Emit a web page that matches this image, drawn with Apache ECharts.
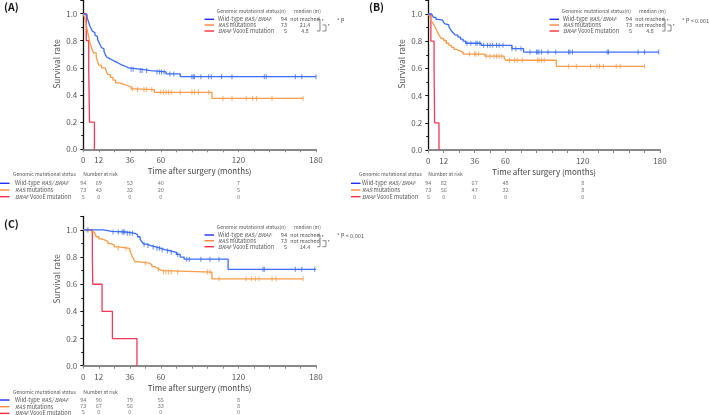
<!DOCTYPE html>
<html>
<head>
<meta charset="utf-8">
<script src="https://cdn.jsdelivr.net/npm/echarts@6/dist/echarts.min.js"></script>
<style>
html, body { margin: 0; padding: 0; background: #fff; }
#chart { width: 709px; height: 415px; }
</style>
</head>
<body>
<div id="chart"></div>
<script>
const FONT = '"Noto Sans CJK JP", "Noto Sans", sans-serif';

// axis ticks
const xTickLabels = [0, 12, 36, 60, 120, 180];
const yTickLabels = [0, 0.2, 0.4, 0.6, 0.8, 1.0];
const riskTimes = [0, 12, 36, 60, 120];

// group info
const groupNs = [94, 73, 5];
const groupColors = ['#3b6cf6', '#f89c48', '#f23a58'];
const swatchColors = ['#1c2cff', '#ff8a3c', '#ff2e3e'];

// (A) survival steps [month, rate]
const aWild = [[0,1],[1.5,0.99],[3,0.97],[4,0.94],[5,0.91],[6,0.89],[7,0.87],[8,0.86],[9,0.84],[10,0.83],[11,0.81],[12,0.79],[13,0.77],[14,0.75],[15,0.74],[16,0.72],[17,0.70],[18,0.68],[19,0.67],[20,0.66],[22,0.65],[24,0.64],[26,0.63],[28,0.62],[30,0.61],[33,0.60],[35,0.59],[44,0.58],[52,0.57],[64,0.555],[75,0.535],[180,0.535]];
const aRas = [[0,1],[1,0.97],[2,0.93],[3,0.88],[4,0.84],[5,0.79],[6,0.76],[7,0.73],[8,0.71],[10,0.68],[11,0.65],[12,0.62],[14,0.60],[17,0.59],[18,0.57],[19,0.55],[21,0.53],[23,0.51],[25,0.49],[28,0.48],[31,0.47],[34,0.46],[37,0.445],[40,0.44],[55,0.42],[99.5,0.375],[170,0.375]];
const aBraf = [[0,1],[2.3,0.8],[4.2,0.6],[4.8,0.2],[8.6,0]];
const aWildCens = [37,38.5,44,45.5,49,57,59,60.5,62.5,67,70,84,85,86,91,97,99,107,115,140,141.5,164,169,180];
const aRasCens = [38,42,47,49,53,60,62,64,66,68,75,84,86,89,97,108,115,126,131,134,146,170];
const aRiskWild = [94, 69, 53, 40, 7];
const aRiskRas = [73, 43, 32, 20, 5];
const aRiskBraf = [5, 0, 0, 0, 0];
const aMedians = ['not reached', '21.4', '4.8'];

// (B)
const bWild = [[0,1],[2.6,0.99],[4,0.975],[6,0.96],[8,0.955],[11,0.945],[12.5,0.93],[14,0.92],[16,0.905],[17,0.89],[18,0.875],[19.5,0.86],[21,0.845],[23,0.83],[25,0.815],[27,0.80],[29,0.785],[41,0.77],[65,0.745],[74,0.72],[179,0.72]];
const bRas = [[0,1],[1,0.985],[2,0.96],[3,0.94],[4,0.925],[5,0.91],[6,0.89],[7,0.87],[8,0.85],[9,0.835],[10,0.82],[12,0.805],[14,0.785],[16,0.77],[18,0.755],[20,0.74],[22,0.73],[24,0.72],[27,0.705],[44,0.69],[59,0.675],[60.5,0.66],[99.5,0.615],[168,0.615]];
const bBraf = [[0,1],[2,0.8],[4.5,0.6],[4.9,0.2],[8.3,0]];
const bWildCens = [30,33,37,38,40,43,46,48,50,53,55,58,65,68,72,79,84,85,86,88,93,99,109,110,112,139,140,163,168,179];
const bRasCens = [32,36,37,39,45,48,51,53,55,57,63,67,69,73,85,86,88,90,109,115,126,131,133,136,146,149,168];
const bRiskWild = [94, 82, 67, 48, 8];
const bRiskRas = [73, 56, 47, 32, 8];
const bRiskBraf = [5, 0, 0, 0, 0];
const bMedians = ['not reached', 'not reached', '4.8'];

// (C)
const cWild = [[0,1],[15.5,0.99],[22,0.985],[33,0.975],[40,0.965],[42,0.95],[44,0.93],[45.5,0.91],[47,0.895],[49,0.885],[52,0.875],[56,0.865],[60,0.855],[63,0.845],[68,0.835],[72,0.82],[75,0.80],[78,0.785],[112,0.71],[180,0.71]];
const cRas = [[0,1],[6.5,0.985],[8.5,0.975],[10,0.95],[12,0.935],[14,0.925],[17,0.915],[19,0.90],[21,0.89],[24,0.875],[27,0.865],[36,0.85],[37,0.825],[38,0.80],[39,0.785],[40,0.765],[44,0.755],[51,0.745],[53,0.73],[55,0.72],[57,0.71],[59,0.70],[61,0.69],[99.5,0.64],[170,0.64]];
const cBraf = [[0,1],[7,0.8],[7.3,0.6],[14.5,0.4],[22.5,0.2],[41.5,0]];
const cWildCens = [3,23,27,30,31,32,34,36,38,47,50,54,57,59,61,65,68,73,80,82,91,98,105,139,140,164,169,179];
const cRasCens = [4,27,33,48,58,62,64,66,68,73,96,98,105,126,130,133,136,146,149,170];
const cRiskWild = [94, 90, 79, 55, 8];
const cRiskRas = [73, 67, 56, 33, 8];
const cRiskBraf = [5, 0, 0, 0, 0];
const cMedians = ['not reached', 'not reached', '14.4'];

// value of the step curve at time t
function survAt(curve, t) {
  let v = curve[0][1];
  for (const p of curve) { if (p[0] <= t) v = p[1]; }
  return v;
}

const panels = [
  { tag: '(A)', tagX: 4, tagY: 7.5, km: { left: 83.3, top: 0, width: 232.7, height: 149.3 }, riskTop: 180,
    curves: [aWild, aRas, aBraf], cens: [aWildCens, aRasCens, []], risk: [aRiskWild, aRiskRas, aRiskBraf],
    medians: aMedians, pText: '* P', legDx: 0, legDy: 0, yName: [57, 64], rowX: 0, headY: 174.3 },
  { tag: '(B)', tagX: 369, tagY: 7.5, km: { left: 428.3, top: 0.4, width: 231.7, height: 149.6 }, riskTop: 180,
    curves: [bWild, bRas, bBraf], cens: [bWildCens, bRasCens, []], risk: [bRiskWild, bRiskRas, bRiskBraf],
    medians: bMedians, pText: '* P < 0.001', legDx: 345, legDy: 0, yName: [402, 64], rowX: 351, headY: 174.3 },
  { tag: '(C)', tagX: 4, tagY: 224, km: { left: 83.3, top: 216.4, width: 232.7, height: 149.3 }, riskTop: 396.7,
    curves: [cWild, cRas, cBraf], cens: [cWildCens, cRasCens, []], risk: [cRiskWild, cRiskRas, cRiskBraf],
    medians: cMedians, pText: '* P < 0.001', legDx: 0, legDy: 215.7, yName: [57, 279], rowX: 0, headY: 391.7 }
];

const SMALL = 5.6;
const richStyles = {
  r: { fontSize: SMALL, fontFamily: FONT, fill: '#555' },
  i: { fontSize: SMALL, fontFamily: FONT, fill: '#555', fontStyle: 'italic' }
};
const groupLabels = ['{r|Wild-type }{i|RAS/ BRAF}', '{i|RAS}{r| mutations}', '{i|BRAF}{r| V600E mutation}'];

function txt(x, y, s, align, size, weight) {
  return {
    type: 'text', x: x, y: y, silent: true,
    style: { text: s, fill: weight ? '#111' : '#555', font: (weight || '') + ' ' + (size || SMALL) + 'px ' + FONT,
      align: align || 'left', verticalAlign: 'middle' }
  };
}
function richTxt(x, y, s) {
  return { type: 'text', x: x, y: y, silent: true,
    style: { text: s, rich: richStyles, fill: '#555', fontSize: SMALL, fontFamily: FONT, align: 'left', verticalAlign: 'middle' } };
}
function seg(x1, y1, x2, y2, color, w) {
  return { type: 'line', silent: true, shape: { x1: x1, y1: y1, x2: x2, y2: y2 }, style: { stroke: color, lineWidth: w } };
}
function bracket(pts) {
  return { type: 'polyline', silent: true, shape: { points: pts }, style: { stroke: '#555', fill: null, lineWidth: 0.7 } };
}

const grids = [], xAxes = [], yAxes = [], series = [], graphics = [];

panels.forEach((p, i) => {
  const g = 2 * i, r = 2 * i + 1;
  grids.push(p.km);
  grids.push({ left: p.km.left, width: p.km.width, top: p.riskTop, height: 20 });

  xAxes.push({
    gridIndex: g, type: 'value', min: 0, max: 180, interval: 12,
    name: 'Time after surgery (months)', nameLocation: 'middle', nameGap: 18,
    nameTextStyle: { fontFamily: FONT, fontSize: 8, color: '#444' },
    axisLine: { lineStyle: { color: '#888', width: 2 } },
    axisTick: { length: 3, lineStyle: { color: '#888' } },
    axisLabel: { margin: 7, fontFamily: FONT, fontSize: 8, color: '#555',
      formatter: v => xTickLabels.includes(v) ? String(v) : '' },
    splitLine: { show: false }
  });
  xAxes.push({ gridIndex: r, type: 'value', min: 0, max: 180, show: false });

  yAxes.push({
    gridIndex: g, type: 'value', min: 0, max: 1.1, interval: 0.2,
    axisLine: { show: true, lineStyle: { color: '#111', width: 1.3 } },
    axisTick: { show: true, length: 3, lineStyle: { color: '#111' } },
    minorTick: { show: true, splitNumber: 2, length: 2, lineStyle: { color: '#111' } },
    axisLabel: { margin: 6, fontFamily: FONT, fontSize: 8, color: '#555',
      formatter: v => yTickLabels.some(t => Math.abs(t - v) < 1e-6) ? v.toFixed(1) : '' },
    splitLine: { show: false }
  });
  yAxes.push({ gridIndex: r, type: 'category', data: ['0', '1', '2'], inverse: true, show: false });

  p.curves.forEach((curve, j) => {
    series.push({
      type: 'line', xAxisIndex: g, yAxisIndex: g, step: 'end', data: curve,
      showSymbol: false, symbol: 'none', lineStyle: { color: groupColors[j], width: 1.3 },
      z: 3 - j
    });
    if (p.cens[j].length) {
      series.push({
        type: 'scatter', xAxisIndex: g, yAxisIndex: g,
        data: p.cens[j].map(t => [t, survAt(curve, t)]),
        symbol: 'rect', symbolSize: [1, 5], itemStyle: { color: groupColors[j] }
      });
    }
    series.push({
      type: 'scatter', xAxisIndex: r, yAxisIndex: r,
      data: riskTimes.map((t, k) => [t, j, p.risk[j][k]]),
      symbolSize: 1, itemStyle: { color: 'rgba(0,0,0,0)' },
      label: { show: true, position: 'inside', formatter: d => d.value[2],
        fontFamily: FONT, fontSize: SMALL, color: '#555' }
    });
  });

  // panel tag and y title
  graphics.push(txt(p.tagX, p.tagY, p.tag, 'left', 10.5, 'bold'));
  graphics.push({ type: 'text', x: p.yName[0], y: p.yName[1], rotation: Math.PI / 2, silent: true,
    style: { text: 'Survival rate', fill: '#555', font: '8.5px ' + FONT, align: 'center', verticalAlign: 'middle' } });

  // legend block
  const dx = p.legDx, dy = p.legDy;
  const legRows = [19.3, 25, 31];
  graphics.push(txt(216.7 + dx, 11 + dy, 'Genomic mutational status(n)', 'left', 5));
  graphics.push(txt(307.5 + dx, 11 + dy, 'median (m)', 'center', 5));
  legRows.forEach((y, j) => {
    graphics.push(seg(204.5 + dx, y + dy, 214 + dx, y + dy, swatchColors[j], 1.4));
    graphics.push(richTxt(218 + dx, y + dy, groupLabels[j]));
    graphics.push(txt(287 + dx, y + dy, String(groupNs[j]), 'right'));
    graphics.push(txt(305 + dx, y + dy, p.medians[j], 'center', 5.3));
  });
  graphics.push(bracket([[317 + dx, 19.3 + dy], [320 + dx, 19.3 + dy], [320 + dx, 31 + dy], [317 + dx, 31 + dy]]));
  graphics.push(txt(321.5 + dx, 21 + dy, '*', 'left', 5));
  graphics.push(bracket([[322.5 + dx, 25 + dy], [326 + dx, 25 + dy], [326 + dx, 31 + dy], [322.5 + dx, 31 + dy]]));
  graphics.push(txt(327.5 + dx, 26.5 + dy, '*', 'left', 5));
  graphics.push(txt(337 + dx, 20.5 + dy, p.pText, 'left', 5.6));

  // risk table labels
  const rx = p.rowX;
  const riskRows = [p.riskTop + 3.33, p.riskTop + 10, p.riskTop + 16.67];
  graphics.push(txt(i === 1 ? 359 : 13, p.headY, 'Genomic mutational status', 'left', 5));
  graphics.push(txt(p.km.left, p.headY, 'Number at risk', 'left', 5));
  riskRows.forEach((y, j) => {
    graphics.push(seg(rx, y, rx + 9.5, y, swatchColors[j], 1.4));
    graphics.push(richTxt(rx + (i === 1 ? 11 : 15), y, groupLabels[j]));
  });
});

const chart = echarts.init(document.getElementById('chart'));
chart.setOption({
  backgroundColor: '#fff',
  animation: false,
  grid: grids,
  xAxis: xAxes,
  yAxis: yAxes,
  series: series,
  graphic: graphics
});
</script>
</body>
</html>
